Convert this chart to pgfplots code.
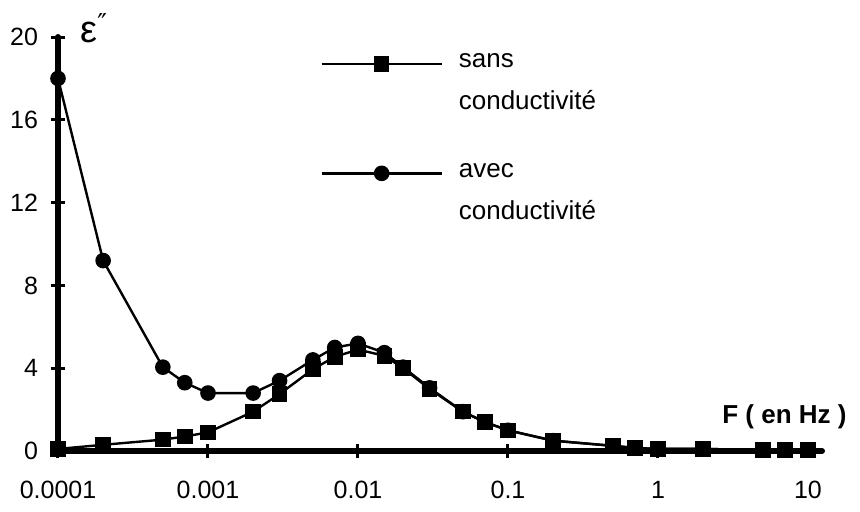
\documentclass[border=0pt]{standalone}
\usepackage{fontspec}
\setmainfont{Liberation Sans}
\newfontfamily\dejavu{DejaVu Sans}
\usepackage{pgfplots}
\pgfplotsset{compat=1.18}

% eps'' versus frequency, with and without conductivity
\pgfplotstableread{
f       sans
0.0001  0.1
0.0002  0.3
0.0005  0.55
0.0007  0.7
0.001   0.9
0.002   1.9
0.003   2.75
0.005   3.95
0.007   4.55
0.01    4.9
0.015   4.6
0.02    4.0
0.03    3.0
0.05    1.9
0.07    1.4
0.1     1.0
0.2     0.5
0.5     0.25
0.7     0.15
1       0.1
2       0.1
5       0.05
7       0.05
10      0.05
}\sansdata
\pgfplotstableread{
f       avec
0.0001  18.0
0.0002  9.2
0.0005  4.05
0.0007  3.3
0.001   2.8
0.002   2.8
0.003   3.4
0.005   4.4
0.007   5.0
0.01    5.2
0.015   4.75
0.02    4.05
0.03    3.05
0.05    1.9
0.07    1.4
0.1     1.0
0.2     0.5
0.5     0.25
0.7     0.15
1       0.1
2       0.1
5       0.05
7       0.05
10      0.05
}\avecdata

\begin{document}
\begin{tikzpicture}
\begin{axis}[
  scale only axis, width=382pt, height=207pt,
  at={(0,0)}, anchor=south west,
  xmode=log, xmin=1e-4, xmax=12.4, ymin=0, ymax=20,
  axis x line*=bottom, axis y line*=left,
  axis line style={-, line width=3pt},
  xtick={1e-4,1e-3,1e-2,1e-1,1,10},
  xticklabels={0.0001,0.001,0.01,0.1,1,10},
  xminorticks=false,
  ytick={0,4,8,12,16,20},
  tick align=center, major tick length=7pt,
  major tick style={line width=1.5pt,black},
  ticklabel style={font=\fontsize{12.5}{15}\selectfont},
  xticklabel style={yshift=-8pt},
  yticklabel style={xshift=-3pt},
  /pgf/number format/assume math mode=true,
  clip=false,
  legend style={draw=none, fill=none, inner sep=0pt,
    at={(rel axis cs:0.343,0.99)}, anchor=north west,
    cells={anchor=base west}, row sep=38pt, column sep=6pt,
    font=\fontsize{13}{16}\selectfont},
  legend image code/.code={\draw[#1, mark repeat=2, mark phase=2]
    plot coordinates {(0pt,2pt) (30pt,2pt) (60pt,2pt)};},
]
% heavy axis lines as in the original
\draw[line width=3pt, line cap=round] (rel axis cs:0,1) -- (rel axis cs:0,0) -- (rel axis cs:1,0);
\addplot[black, line width=1.2pt, mark=square*, mark size=3.3pt] table[x=f,y=sans] {\sansdata};
\addlegendentry{\begin{tabular}[t]{@{}l@{}}sans\\[5pt]conductivité\end{tabular}}
\addplot[black, line width=1.2pt, mark=*, mark size=3.3pt] table[x=f,y=avec] {\avecdata};
\addlegendentry{\begin{tabular}[t]{@{}l@{}}avec\\[5pt]conductivité\end{tabular}}

\node[anchor=base west, font=\fontsize{19}{20}\selectfont, inner sep=0pt]
  at (rel axis cs:0,1) [xshift=11pt, yshift=-2.5pt]
  {ε\raisebox{0.25em}{\fontsize{13}{13}\dejavu ″}};
\node[anchor=base east, font=\fontsize{13}{15}\selectfont\bfseries, inner sep=0pt]
  at (rel axis cs:1,0) [xshift=12.5pt, yshift=14pt] {F ( en Hz )};
\end{axis}
\pgfresetboundingbox
\path (-29pt,-30pt) rectangle (401pt,225.5pt);
\end{tikzpicture}
\end{document}
